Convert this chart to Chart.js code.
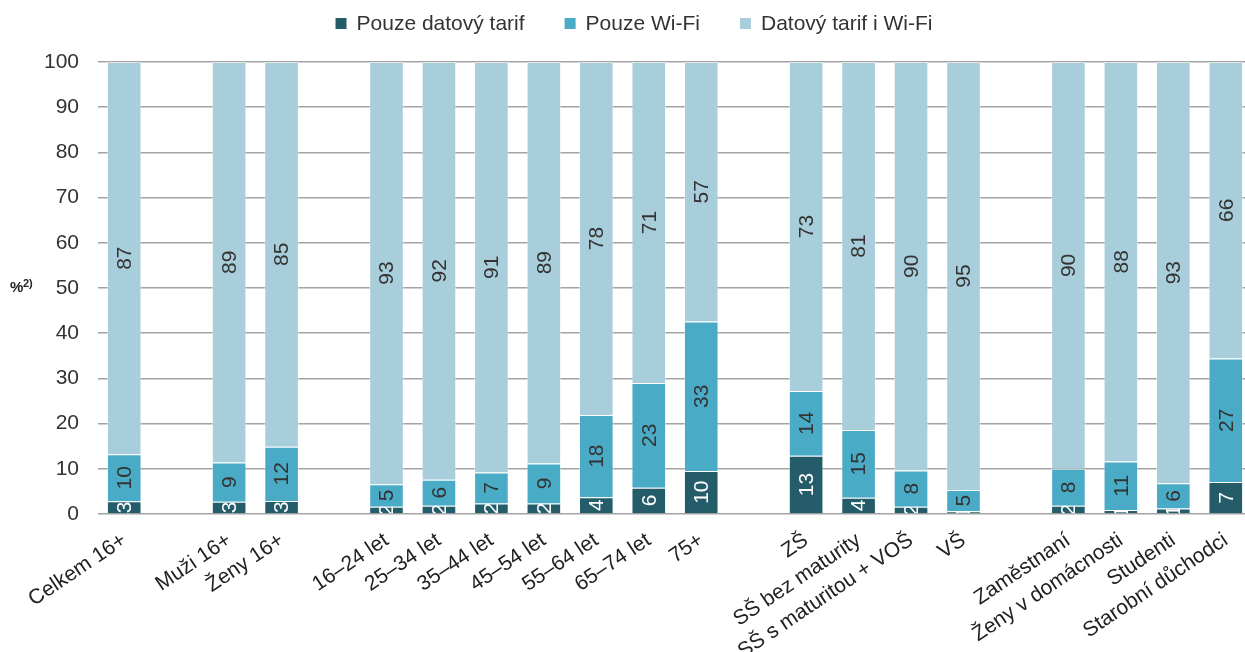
<!DOCTYPE html>
<html lang="cs">
<head>
<meta charset="utf-8">
<title>Připojení k internetu na mobilu</title>
<script src="https://cdn.jsdelivr.net/npm/chart.js@4.4.1/dist/chart.umd.min.js"></script>
<style>
  html, body { margin: 0; padding: 0; background: #fff; overflow: hidden; }
  #graf { display: block; }
</style>
</head>
<body>
<canvas id="graf" width="1252" height="652"></canvas>
<script>
// prázdné položky = mezery mezi skupinami
const kategorie = ['Celkem 16+', '', 'Muži 16+', 'Ženy 16+', '', '16–24 let', '25–34 let', '35–44 let', '45–54 let', '55–64 let', '65–74 let', '75+', '', 'ZŠ', 'SŠ bez maturity', 'SŠ s maturitou + VOŠ', 'VŠ', '', 'Zaměstnaní', 'Ženy v domácnosti', 'Studenti', 'Starobní důchodci'];

const pouzeDatovyTarif = [2.8, null, 2.7, 2.9, null, 1.6, 1.8, 2.3, 2.3, 3.7, 5.8, 9.5, null, 12.9, 3.6, 1.6, 0.6, null, 1.8, 0.9, 1.2, 7.1];
const pouzeWifi = [10.4, null, 8.7, 12.0, null, 5.0, 5.8, 6.9, 8.9, 18.2, 23.2, 33.1, null, 14.3, 15.0, 8.0, 4.7, null, 8.2, 10.7, 5.6, 27.3];
const tarifIWifi = [86.8, null, 88.6, 85.1, null, 93.4, 92.4, 90.8, 88.8, 78.1, 71.0, 57.4, null, 72.8, 81.4, 90.4, 94.7, null, 90.0, 88.4, 93.2, 65.6];

const nazvyRad = ['Pouze datový tarif', 'Pouze Wi-Fi', 'Datový tarif i Wi-Fi'];
const barvy = ['#245c6a', '#4aabc7', '#a9cedb'];
const barvyPopisku = ['#ffffff', '#333333', '#333333'];

const pismo = '"Liberation Sans", Arial, sans-serif';

// hodnoty uvnitř sloupců, otočené o 90°
const popiskyPlugin = {
    id: 'popisky',
    afterDatasetsDraw(chart) {
        const ctx = chart.ctx;
        chart.data.datasets.forEach((ds, i) => {
            const meta = chart.getDatasetMeta(i);
            meta.data.forEach((bar, j) => {
                const v = ds.data[j];
                if (v == null) return;
                const p = bar.getProps(['x', 'y', 'base', 'width'], true);
                ctx.save();
                ctx.beginPath();
                ctx.rect(p.x - p.width / 2, p.y, p.width, p.base - p.y);
                ctx.clip();
                ctx.translate(p.x, (p.y + p.base) / 2);
                ctx.rotate(-Math.PI / 2);
                ctx.font = '21px ' + pismo;
                ctx.fillStyle = barvyPopisku[i];
                ctx.textAlign = 'center';
                ctx.textBaseline = 'middle';
                ctx.fillText(String(Math.round(v)), 0, 1);
                ctx.restore();
            });
        });
    }
};

// legenda nahoře a popis osy Y
const legendaPlugin = {
    id: 'legenda',
    afterDraw(chart) {
        const ctx = chart.ctx;
        ctx.save();
        ctx.font = '21px ' + pismo;
        const box = 11, odsazeni = 21, mezera = 40;
        const sirky = chart.data.datasets.map(ds => odsazeni + ctx.measureText(ds.label).width);
        const celkem = sirky.reduce((a, b) => a + b, 0) + mezera * (sirky.length - 1);
        let x = 634 - celkem / 2;
        chart.data.datasets.forEach((ds, i) => {
            ctx.fillStyle = ds.backgroundColor;
            ctx.fillRect(x, 18, box, box);
            ctx.fillStyle = '#333333';
            ctx.textBaseline = 'alphabetic';
            ctx.fillText(ds.label, x + odsazeni, 30);
            x += sirky[i] + mezera;
        });

        ctx.fillStyle = '#222222';
        ctx.font = 'bold 15px ' + pismo;
        ctx.fillText('%', 10, 292);
        ctx.font = 'bold 11px ' + pismo;
        ctx.fillText('2)', 23, 287);
        ctx.restore();
    }
};

const radky = [pouzeDatovyTarif, pouzeWifi, tarifIWifi];

new Chart(document.getElementById('graf').getContext('2d'), {
    type: 'bar',
    data: {
        labels: kategorie,
        datasets: radky.map((data, i) => ({
            label: nazvyRad[i],
            data: data,
            backgroundColor: barvy[i],
            borderColor: 'rgba(255, 255, 255, 0.45)',
            borderWidth: 1,
            barPercentage: 0.66,
            categoryPercentage: 1
        }))
    },
    options: {
        responsive: false,
        animation: false,
        layout: { padding: { top: 62, left: 0, right: 0, bottom: 0 } },
        plugins: {
            legend: { display: false },
            tooltip: { enabled: false }
        },
        scales: {
            x: {
                stacked: true,
                grid: { display: false },
                border: { display: false },
                ticks: {
                    autoSkip: false,
                    minRotation: 34,
                    maxRotation: 34,
                    padding: 6,
                    color: '#222222',
                    font: { family: pismo, size: 21 }
                },
                afterFit(scale) { scale.height = 138; }
            },
            y: {
                stacked: true,
                min: 0,
                max: 100,
                grid: { color: '#a3a3a3', lineWidth: 1.5, drawTicks: false },
                border: { display: false },
                ticks: {
                    stepSize: 10,
                    padding: 19,
                    color: '#333333',
                    font: { family: pismo, size: 21 }
                },
                afterFit(scale) { scale.width = 98; }
            }
        }
    },
    plugins: [popiskyPlugin, legendaPlugin]
});
</script>
</body>
</html>
